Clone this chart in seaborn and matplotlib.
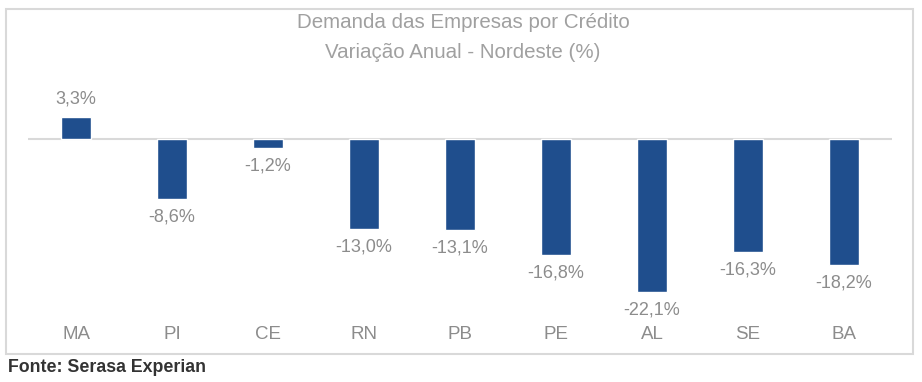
import pandas as pd
import seaborn as sns
import matplotlib.pyplot as plt
from matplotlib.patches import Rectangle

# data
estados = ["MA", "PI", "CE", "RN", "PB", "PE", "AL", "SE", "BA"]
variacao = [3.3, -8.6, -1.2, -13.0, -13.1, -16.8, -22.1, -16.3, -18.2]

df = pd.DataFrame({"estado": estados, "variacao": variacao})

sns.set_style("white")
plt.rcParams['font.family'] = ['Liberation Sans', 'DejaVu Sans']

fig = plt.figure(figsize=(9.22, 3.82), dpi=100)
ax = fig.add_axes([28 / 922, 1 - 312 / 382, 864 / 922, 214 / 382])

sns.barplot(data=df, x="estado", y="variacao", color="#1F4E8D",
            width=0.31, saturation=1, ax=ax)

ax.set_ylim(-25, 6)
ax.axhline(0, color="#D9D9D9", lw=1.5, zorder=0)
for s in ax.spines.values():
    s.set_visible(False)
ax.set_yticks([])
ax.set_xlabel("")
ax.set_ylabel("")
ax.tick_params(axis="x", length=0, pad=10, labelsize=13.5, labelcolor="#8C8C8C")

# value labels
for p, v in zip(ax.patches, variacao):
    x = p.get_x() + p.get_width() / 2
    off = 13 if v > 0 else -13
    ax.annotate(f"{v:.1f}%".replace(".", ","), (x, v),
                xytext=(0, off), textcoords="offset points",
                ha="center", va="center", fontsize=13, color="#8C8C8C")

# title
fig.text(463 / 922, 1 - 22 / 382, "Demanda das Empresas por Crédito",
         ha="center", va="center", fontsize=14.8, color="#A0A0A0")
fig.text(463 / 922, 1 - 52 / 382, "Variação Anual - Nordeste (%)",
         ha="center", va="center", fontsize=14.8, color="#A0A0A0")

# chart border
fig.patches.append(Rectangle((6 / 922, 1 - 354 / 382), 907 / 922, 345 / 382,
                             transform=fig.transFigure, fill=False,
                             edgecolor="#D9D9D9", lw=1.5))

fig.text(8 / 922, 1 - 367 / 382, "Fonte: Serasa Experian", ha="left", va="center",
         fontsize=12.8, fontweight="bold", color="#333333")

fig.savefig("out.png", dpi=100)
